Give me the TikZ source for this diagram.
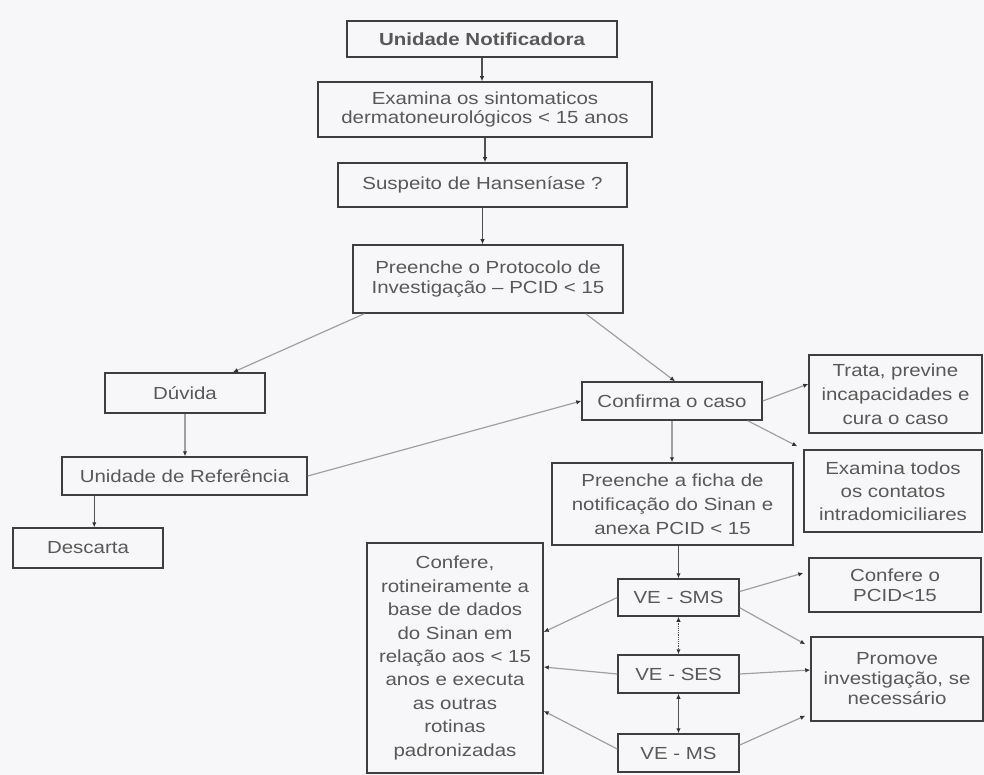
\documentclass[tikz,border=0pt]{standalone}
\usepackage{fontspec}
\setmainfont{Liberation Sans}[FakeStretch=1.17]
\usetikzlibrary{arrows.meta,calc}
\definecolor{bgc}{RGB}{247,247,249}
\definecolor{boxc}{RGB}{62,62,62}
\definecolor{txtc}{RGB}{88,88,88}
\definecolor{linec}{RGB}{160,160,160}
\definecolor{darkl}{RGB}{80,80,80}
\definecolor{tipc}{RGB}{50,50,50}
\begin{document}
\begin{tikzpicture}[x=1pt,y=-1pt,
  box/.style={draw=boxc, line width=1.5pt, text=txtc, align=center, inner sep=0pt,
    font=\fontsize{17.5}{21}\selectfont},
  conn/.style={draw=linec, line width=1.2pt, -{Latex[length=5pt,width=4.5pt,color=tipc]}},
  mainc/.style={draw=darkl, line width=1.2pt, -{Latex[length=5pt,width=4.5pt,color=tipc]}},
  both/.style={draw=darkl, line width=1.2pt, {Latex[length=5pt,width=4.5pt,color=tipc]}-{Latex[length=5pt,width=4.5pt,color=tipc]}}
]
\fill[bgc] (0,0) rectangle (984,775);
\useasboundingbox (0,0) rectangle (984,775);

% nodes
\node[box, minimum width=270pt, minimum height=36pt] (un) at (482,39) {\bfseries Unidade Notificadora};
\node[box, minimum width=334pt, minimum height=55pt, font=\fontsize{17.5}{19}\selectfont] (ex) at (485,109.5) {Examina os sintomaticos\\dermatoneurológicos < 15 anos};
\node[box, minimum width=289pt, minimum height=44pt] (su) at (482.5,185) {Suspeito de Hanseníase ?};
\node[box, minimum width=270pt, minimum height=68pt, font=\fontsize{17.5}{20}\selectfont] (pp) at (488,279) {Preenche o Protocolo de\\Investigação – PCID < 15};
\node[box, minimum width=160pt, minimum height=40pt] (du) at (185,393) {Dúvida};
\node[box, minimum width=245pt, minimum height=38pt] (ur) at (184.5,476) {Unidade de Referência};
\node[box, minimum width=150pt, minimum height=40pt] (de) at (88,548) {Descarta};
\node[box, minimum width=180pt, minimum height=38pt] (co) at (672,401) {Confirma o caso};
\node[box, minimum width=173pt, minimum height=78pt, font=\fontsize{17.5}{24}\selectfont] (tr) at (895.5,394) {Trata, previne\\incapacidades e\\cura o caso};
\node[box, minimum width=178pt, minimum height=82pt, font=\fontsize{17.5}{23}\selectfont] (et) at (893,491) {Examina todos\\os contatos\\intradomiciliares};
\node[box, minimum width=241pt, minimum height=82pt, font=\fontsize{17.5}{24}\selectfont] (pf) at (672.5,504) {Preenche a ficha de\\notificação do Sinan e\\anexa PCID < 15};
\node[box, minimum width=176pt, minimum height=230pt, font=\fontsize{17.5}{23.4}\selectfont] (cf) at (455,658) {Confere,\\rotineiramente a\\base de dados\\do Sinan em\\relação aos < 15\\anos e executa\\as outras\\rotinas\\padronizadas};
\node[box, minimum width=121pt, minimum height=37pt] (sms) at (678.5,597.5) {VE - SMS};
\node[box, minimum width=121pt, minimum height=38pt] (ses) at (678.5,674) {VE - SES};
\node[box, minimum width=121pt, minimum height=38pt] (ms) at (678.5,753) {VE - MS};
\node[box, minimum width=172pt, minimum height=54pt, font=\fontsize{17.5}{20}\selectfont] (pc) at (895,585) {Confere o\\PCID<15};
\node[box, minimum width=172pt, minimum height=84pt, font=\fontsize{17.5}{20}\selectfont] (pr) at (897,679) {Promove\\investigação, se\\necessário};

% connectors
\draw[mainc] (un.south) -- (un.south |- ex.north);
\draw[mainc] (ex.south) -- (ex.south |- su.north);
\draw[mainc] (su.south) -- (su.south |- pp.north);
\draw[conn] ([xshift=12pt]pp.south west) -- ([xshift=48pt]du.north);
\draw[conn] ([xshift=-38pt]pp.south east) -- ([xshift=3pt]co.north);
\draw[conn] (du.south) -- (du.south |- ur.north);
\draw[mainc] ([xshift=33pt]ur.south west) -- ([xshift=33pt]ur.south west |- de.north);
\draw[conn] (ur.east) -- (co.west);
\draw[conn] (co.east) -- ([yshift=10pt]tr.west);
\draw[conn] ([xshift=-15pt]co.south east) -- ([xshift=-6pt,yshift=3pt]et.north west);
\draw[conn] (co.south) -- (co.south |- pf.north);
\draw[mainc] (pf.south -| sms.north) -- (sms.north);
\draw[both, densely dotted] (sms.south) -- (ses.north);
\draw[both] (ses.south) -- (ms.north);
\draw[conn] (sms.west) -- ([yshift=26pt]cf.east);
\draw[conn] (ses.west) -- ([yshift=-9pt]cf.east);
\draw[conn] ([yshift=4pt]ms.west) -- ([yshift=-53pt]cf.east);
\draw[conn] ([yshift=6pt]sms.east) -- ([xshift=-5pt,yshift=12pt]pc.west);
\draw[conn] ([yshift=9pt]sms.south east) -- ([xshift=-5pt,yshift=-8pt]pr.north west);
\draw[conn] (ses.east) -- ([yshift=9pt]pr.west);
\draw[conn] ([yshift=8pt]ms.east) -- ([xshift=-5pt,yshift=6pt]pr.south west);
\end{tikzpicture}
\end{document}
